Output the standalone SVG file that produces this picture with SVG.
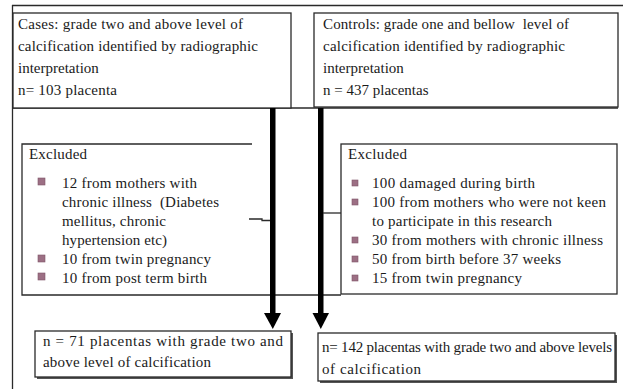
<svg xmlns="http://www.w3.org/2000/svg" width="623" height="389" viewBox="0 0 623 389">
<defs>
<style>
text{font-family:"Liberation Serif","Times New Roman","DejaVu Serif",serif;font-size:15px;fill:#1a1a1a}
.box{fill:#fff;stroke:#2a2a2a;stroke-width:1.3}
.ln{fill:none;stroke:#2a2a2a;stroke-width:1.3}
.shadow{fill:#555}
.bul{fill:#9c6f84;stroke:#7f5568;stroke-width:0.6}
.shaft{fill:#000}
</style>
</defs>
<rect width="623" height="389" fill="#fff"/>
<g id="frame">
<line class="ln" x1="12" y1="5.5" x2="623" y2="5.5"/>
<line class="ln" x1="12.5" y1="5" x2="12.5" y2="389"/>
<line class="ln" x1="12" y1="108" x2="618" y2="108"/>
</g>
<g id="cases" font-family="Liberation Serif, serif">
<rect class="box" x="13" y="13" width="278" height="95"/>
<text x="18" y="29" textLength="225" lengthAdjust="spacing">Cases: grade two and above level of</text>
<text x="18" y="51" textLength="240" lengthAdjust="spacing">calcification identified by radiographic</text>
<text x="18" y="73">interpretation</text>
<text x="18" y="95" textLength="99" lengthAdjust="spacing">n= 103 placenta</text>
</g>
<g id="controls">
<rect class="box" x="314" y="13" width="304" height="94"/>
<text x="323" y="29" textLength="246" lengthAdjust="spacing" xml:space="preserve">Controls: grade one and bellow  level of</text>
<text x="323" y="51" textLength="242" lengthAdjust="spacing">calcification identified by radiographic</text>
<text x="323" y="73">interpretation</text>
<text x="323" y="95">n = 437 placentas</text>
</g>
<g id="excluded-cases">
<polyline class="ln" points="252,144 22,144 22,295 341,295"/>
<text x="29" y="159" textLength="58" lengthAdjust="spacing">Excluded</text>
<rect class="bul" x="38" y="178" width="7" height="7"/>
<rect class="bul" x="38" y="255" width="7" height="7"/>
<rect class="bul" x="38" y="273" width="7" height="7"/>
<text x="62" y="188" textLength="135" lengthAdjust="spacing">12 from mothers with</text>
<text x="62" y="207" textLength="157" lengthAdjust="spacing" xml:space="preserve">chronic illness  (Diabetes</text>
<text x="62" y="226" textLength="104" lengthAdjust="spacing">mellitus, chronic</text>
<text x="62" y="245" textLength="105" lengthAdjust="spacing">hypertension etc)</text>
<text x="62" y="264" textLength="149" lengthAdjust="spacing">10 from twin pregnancy</text>
<text x="62" y="283" textLength="145" lengthAdjust="spacing">10 from post term birth</text>
</g>
<g id="excluded-controls">
<rect class="box" x="341" y="144" width="276" height="150"/>
<text x="348" y="159" textLength="59" lengthAdjust="spacing">Excluded</text>
<rect class="bul" x="352" y="180" width="6" height="6"/>
<rect class="bul" x="352" y="199" width="6" height="6"/>
<rect class="bul" x="352" y="237" width="6" height="6"/>
<rect class="bul" x="352" y="256" width="6" height="6"/>
<rect class="bul" x="352" y="275" width="6" height="6"/>
<text x="372" y="188" textLength="163" lengthAdjust="spacing">100 damaged during birth</text>
<text x="372" y="207" textLength="234" lengthAdjust="spacing">100 from mothers who were not keen</text>
<text x="372" y="226" textLength="180" lengthAdjust="spacing">to participate in this research</text>
<text x="372" y="245" textLength="231" lengthAdjust="spacing">30 from mothers with chronic illness</text>
<text x="372" y="264" textLength="189" lengthAdjust="spacing">50 from birth before 37 weeks</text>
<text x="372" y="283" textLength="150" lengthAdjust="spacing">15 from twin pregnancy</text>
</g>
<g id="final-cases">
<rect class="shadow" x="37" y="333" width="256" height="46"/>
<rect class="box" x="35" y="331" width="256" height="46"/>
<text x="43" y="346" textLength="240" lengthAdjust="spacing">n = 71 placentas with grade two and</text>
<text x="43" y="367" textLength="168" lengthAdjust="spacing">above level of calcification</text>
</g>
<g id="final-controls">
<rect class="shadow" x="320" y="335" width="297" height="48"/>
<rect class="box" x="318" y="333" width="297" height="48"/>
<text x="322" y="352" textLength="290" lengthAdjust="spacing">n= 142 placentas with grade two and above levels</text>
<text x="322" y="374" textLength="99" lengthAdjust="spacing">of calcification</text>
</g>
<g id="connectors">
<rect class="shaft" x="270" y="108" width="5.5" height="206"/>
<polygon class="shaft" points="264,313 281,313 272.8,329"/>
<rect class="shaft" x="318" y="108" width="5.5" height="206"/>
<polygon class="shaft" points="312.5,313 329,313 320.8,329"/>
<polyline class="ln" points="249,219 262,219 262,220.5 270,220.5"/>
<line class="ln" x1="323" y1="213" x2="341" y2="213"/>
</g>
</svg>
